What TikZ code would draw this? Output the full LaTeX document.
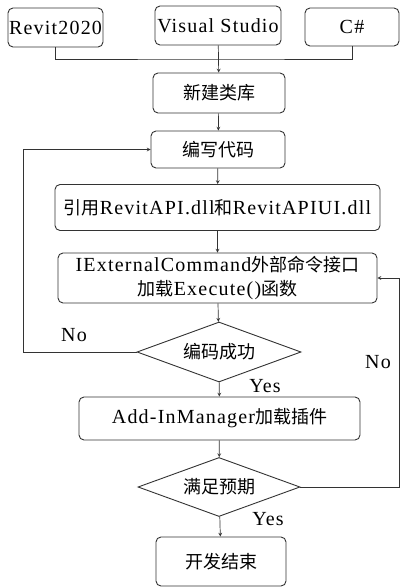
\documentclass[tikz,border=0pt]{standalone}
\usepackage{fontspec}
\setmainfont{Liberation Serif}[LetterSpace=6]
\newfontfamily\cjk[Scale=0.9]{Noto Sans CJK SC}
\newcommand{\zh}[1]{{\cjk #1}}
\usetikzlibrary{shapes.geometric}
\tikzset{
  box/.style={draw=black!80, line width=0.9pt, rounded corners=5pt, inner sep=0pt, align=center, font=\fontsize{20}{24}\selectfont},
  choice/.style={draw=black!80, line width=0.9pt, diamond, shape aspect=2.7, inner sep=0pt, font=\fontsize{20}{24}\selectfont},
  note/.style={inner sep=0pt, font=\fontsize{20}{24}\selectfont},
  link/.style={draw=black!80, line width=0.7pt}
}
\begin{document}
\begin{tikzpicture}[x=1pt, y=-1pt]
                  \useasboundingbox[fill=white] (0,0) rectangle (401,588);

                  \node[box, minimum width=95, minimum height=39] (rvt) at (55.5,27.5) {Revit2020};
                  \node[box, minimum width=126, minimum height=39] (vs) at (218,25.5) {Visual Studio};
                  \node[box, minimum width=94, minimum height=38] (cs) at (352,27) {C\#};
                  \node[box, minimum width=132, minimum height=40] (xjlk) at (219,93) {\zh{新建类库}};
                  \node[box, minimum width=134, minimum height=37] (bxdm) at (218,149.5) {\zh{编写代码}};
                  \node[box, minimum width=325, minimum height=46] (yy) at (217.5,207.5) {\zh{引用}RevitAPI.dll\zh{和}RevitAPIUI.dll};
                  \node[box, minimum width=319, minimum height=50] (iext) at (217.5,278) {IExternalCommand\zh{外部命令接口}\\\zh{加载}Execute()\zh{函数}};
                  \node[choice, minimum width=164, minimum height=60] (bmcg) at (219,352) {\zh{编码成功}};
                  \node[box, minimum width=281, minimum height=43] (addin) at (219.5,418.5) {Add-InManager\zh{加载插件}};
                  \node[choice, minimum width=162, minimum height=59] (mzyq) at (219,487) {\zh{满足预期}};
                  \node[box, minimum width=130, minimum height=49] (kfjs) at (221,561.5) {\zh{开发结束}};

                  \coordinate (j) at (218,59);
                  \coordinate (lp) at (23,0);
                  \coordinate (rp) at (399.5,0);

                  \draw[link] (rvt.south) |- (j) -| (cs.south);
                  \draw[link, -stealth] (vs) -- (xjlk);
                  \draw[link, -stealth] (xjlk) -- (bxdm);
                  \draw[link, -stealth] (bxdm) -- (yy);
                  \draw[link, -stealth] (yy) -- (iext);
                  \draw[link, -stealth] (iext) -- (bmcg);
                  \draw[link, -stealth] (bmcg) -- (addin);
                  \draw[link, -stealth] (addin) -- (mzyq);
                  \draw[link, -stealth] (mzyq) -- (kfjs);
                  \draw[link, -stealth] (bmcg.west) -- (bmcg.west -| lp) |- (bxdm.west);
                  \draw[link, -stealth] (mzyq.east) -- (mzyq.east -| rp) |- (iext.east);

                  \node[note] (no1) at (74,335) {No};
                  \node[note] (no2) at (378,362) {No};
                  \node[note] (yes1) at (265,386) {Yes};
                  \node[note] (yes2) at (268,519) {Yes};
                \end{tikzpicture}
\end{document}
